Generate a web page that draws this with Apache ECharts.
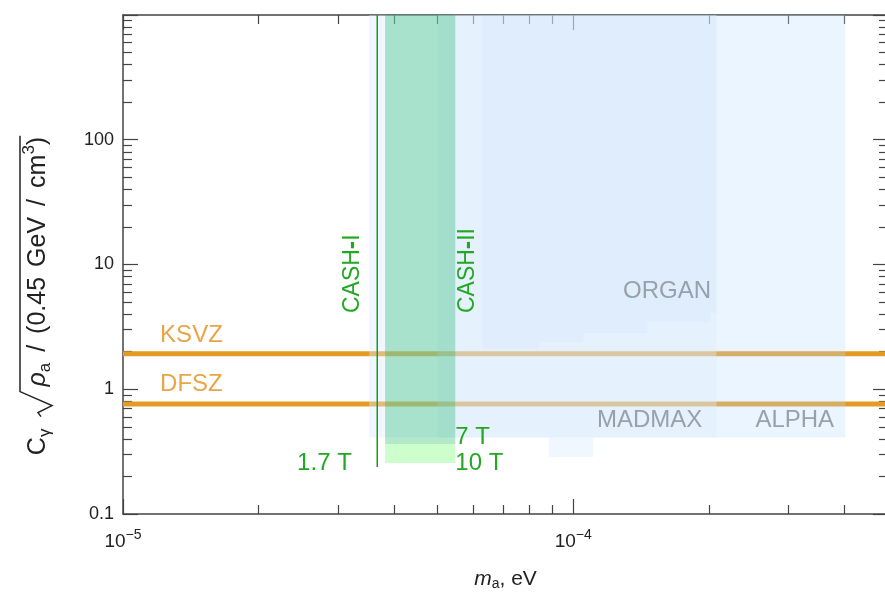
<!DOCTYPE html>
<html><head><meta charset="utf-8">
<script src="https://cdn.jsdelivr.net/npm/echarts@6/dist/echarts.min.js"></script>
<style>html,body{margin:0;padding:0;background:#fff}#c{width:885px;height:595px}</style>
</head><body><div id="c"></div>
<script>
// ---------- data ----------
const massRange = [1e-5, 5e-4];
const couplingRange = [0.1, 1000];
const massMajor = [1e-5, 1e-4];
const massMinor = [2e-5,3e-5,4e-5,5e-5,6e-5,7e-5,8e-5,9e-5,2e-4,3e-4,4e-4];
const couplingMajor = [0.1, 1, 10, 100, 1000];
const couplingLabelValues = [0.1, 1, 10, 100];
const couplingMinor = [0.2,0.3,0.4,0.5,0.6,0.7,0.8,0.9,2,3,4,5,6,7,8,9,20,30,40,50,60,70,80,90,200,300,400,500,600,700,800,900];

// QCD axion benchmark couplings
const ksvzCoupling = 1.93;
const dfszCoupling = 0.76;

// rectangular sensitivity regions
const regionNames        = ['MADMAX wide', 'MADMAX core', 'ALPHA', 'small', 'CASH-II 7 T', 'CASH-II 10 T'];
const regionMassLow      = [3.52e-5, 5.0e-5, 2.08e-4, 8.84e-5, 3.82e-5, 3.82e-5];
const regionMassHigh     = [2.08e-4, 2.08e-4, 4.02e-4, 1.108e-4, 5.47e-5, 5.47e-5];
const regionCouplingLow  = [0.41, 0.41, 0.41, 0.287, 0.364, 0.256];
const regionCouplingHigh = [1000, 1000, 1000, 0.41, 1000, 0.364];

// ORGAN stepped region
const organMassEdges = [6.28e-5, 8.36e-5, 1.052e-4, 1.46e-4, 2.016e-4, 2.078e-4];
const organCouplingFloor = [2.10, 2.39, 2.82, 3.46, 4.09];
const organCouplingTop = 1000;

// CASH-I 1.7 T line
const cash1Mass = 3.67e-5;
const cash1Coupling = [0.238, 1000];

// annotations
const noteTexts    = ['KSVZ', 'DFSZ', 'CASH{b|-}I', 'CASH{b|-}II', 'ORGAN', 'MADMAX', 'ALPHA', '1.7 T', '7 T', '10 T'];
const noteMass     = [1.209e-5, 1.209e-5, 3.23e-5, 5.83e-5, 1.29e-4, 1.129e-4, 2.538e-4, 2.436e-5, 5.47e-5, 5.47e-5];
const noteCoupling = [2.72, 1.10, 4.08, 4.08, 6.05, 0.567, 0.567, 0.256, 0.41, 0.256];

// ---------- styles ----------
const FONT = 'Liberation Sans, Arial, sans-serif';
const AX = '#444';
const TXT = '#222';
const ORANGE = '#e39b26';
const regionFills = ['rgba(217,235,255,0.4)', 'rgba(207,230,252,0.3)', 'rgba(185,222,255,0.3)', 'rgba(217,235,255,0.4)', 'rgba(7,180,85,0.3)', 'rgba(0,255,0,0.2)'];
const regionZ = [1, 2, 1, 1, 4, 4];
const organFill = 'rgba(185,215,250,0.12)';
const noteColors = ['#e8a546','#e8a546','#22a822','#22a822','#98a1aa','#98a1aa','#98a1aa','#22a822','#22a822','#22a822'];
const noteRotate = [0,0,1,1,0,0,0,0,0,0];
const noteSize   = [24,24,23,23,24,24,24,24,24,24];

const chart = echarts.init(document.getElementById('c'), null, {renderer: 'canvas', width: 885, height: 595});

function mkX(position, ticks, len, line, labels) {
  return {
    type: 'log', logBase: 10, min: massRange[0], max: massRange[1], position: position,
    splitLine: {show: false}, minorTick: {show: false},
    axisLine: {show: line, onZero: false, lineStyle: {color: AX, width: 1.5}},
    axisTick: {show: true, inside: true, length: len, customValues: ticks, lineStyle: {color: AX, width: 1.2}},
    axisLabel: labels ? {
      show: true, customValues: massMajor, margin: 14, color: TXT, fontFamily: FONT, fontSize: 19,
      formatter: v => '10{sup|\u2212' + (-Math.round(Math.log10(v))) + '}',
      rich: {sup: {fontSize: 14, fontFamily: FONT, color: TXT, padding: [0, 0, 14, 0]}}
    } : {show: false}
  };
}
function mkY(position, ticks, len, line, labels) {
  return {
    type: 'log', logBase: 10, min: couplingRange[0], max: couplingRange[1], position: position,
    splitLine: {show: false}, minorTick: {show: false},
    axisLine: {show: line, onZero: false, lineStyle: {color: AX, width: 1.5}},
    axisTick: {show: true, inside: true, length: len, customValues: ticks, lineStyle: {color: AX, width: 1.2}},
    axisLabel: labels ? {
      show: true, customValues: couplingLabelValues, margin: 9, color: TXT, fontFamily: FONT, fontSize: 18,
      formatter: v => (v < 1 ? v.toFixed(1) : String(Math.round(v)))
    } : {show: false}
  };
}

const xAxes = [
  mkX('bottom', massMajor, 15, true, true),
  mkX('bottom', massMinor, 9, false, false),
  mkX('top', massMajor, 15, true, false),
  mkX('top', massMinor, 9, false, false)
];
xAxes[0].name = '{i|m}{s|a}, eV';
xAxes[0].nameLocation = 'middle';
xAxes[0].nameGap = 53;
xAxes[0].nameTextStyle = {fontFamily: FONT, fontSize: 21, color: TXT,
  rich: {i: {fontStyle: 'italic', fontFamily: FONT, fontSize: 21, color: TXT},
         s: {fontFamily: FONT, fontSize: 14, color: TXT, padding: [10, 0, 0, 0]}}};

const yAxes = [
  mkY('left', couplingMajor, 15, true, true),
  mkY('left', couplingMinor, 9, false, false),
  mkY('right', couplingMajor, 15, false, false),
  mkY('right', couplingMinor, 9, false, false)
];

const series = [
  {type: 'line', name: 'KSVZ', xAxisIndex: 0, yAxisIndex: 0, z: 2, silent: true, symbol: 'none',
   data: [[massRange[0], ksvzCoupling], [massRange[1], ksvzCoupling]],
   lineStyle: {color: ORANGE, width: 5, cap: 'butt'}},
  {type: 'line', name: 'DFSZ', xAxisIndex: 0, yAxisIndex: 0, z: 2, silent: true, symbol: 'none',
   data: [[massRange[0], dfszCoupling], [massRange[1], dfszCoupling]],
   lineStyle: {color: ORANGE, width: 5, cap: 'butt'}},
  {type: 'custom', name: 'ORGAN', xAxisIndex: 0, yAxisIndex: 0, z: 3, silent: true, clip: true,
   data: [[organMassEdges[0], organCouplingTop]],
   renderItem: function (params, api) {
     const e = organMassEdges, f = organCouplingFloor;
     const pts = [[e[0], organCouplingTop], [e[e.length - 1], organCouplingTop]];
     for (let i = f.length - 1; i >= 0; i--) {
       pts.push([e[i + 1], f[i]]);
       pts.push([e[i], f[i]]);
     }
     return {type: 'polygon', z2: 3, shape: {points: pts.map(p => api.coord(p))}, style: {fill: organFill}};
   }},
  {type: 'custom', name: 'regions', xAxisIndex: 0, yAxisIndex: 0, z: 3, silent: true, clip: true,
   data: regionNames.map((n, i) => [regionMassLow[i], regionCouplingLow[i], regionMassHigh[i], regionCouplingHigh[i], i]),
   encode: {x: [0, 2], y: [1, 3]},
   renderItem: function (params, api) {
     const i = api.value(4);
     const a = api.coord([api.value(0), api.value(3)]);
     const b = api.coord([api.value(2), api.value(1)]);
     return {type: 'rect', z2: regionZ[i], shape: {x: a[0], y: a[1], width: b[0] - a[0], height: b[1] - a[1]},
             style: {fill: regionFills[i]}};
   }},
  {type: 'line', name: 'CASH-I', xAxisIndex: 0, yAxisIndex: 0, z: 5, silent: true, symbol: 'none',
   data: [[cash1Mass, cash1Coupling[0]], [cash1Mass, cash1Coupling[1]]],
   lineStyle: {color: '#1c9a1c', width: 1.5}}
];

chart.setOption({
  animation: false,
  backgroundColor: '#fff',
  grid: {left: 123, top: 15, width: 765, height: 499, containLabel: false, outerBoundsMode: 'none'},
  xAxis: xAxes,
  yAxis: yAxes,
  series: series
});

// ---------- text overlays ----------
const graphics = [];
for (let i = 0; i < noteTexts.length; i++) {
  const p = chart.convertToPixel({xAxisIndex: 0, yAxisIndex: 0}, [noteMass[i], noteCoupling[i]]);
  graphics.push({
    type: 'text', x: p[0], y: p[1], rotation: noteRotate[i] ? Math.PI / 2 : 0, z: 100, silent: true,
    style: {text: noteTexts[i], fill: noteColors[i], font: noteSize[i] + 'px ' + FONT,
            align: 'left', verticalAlign: 'middle',
            rich: {b: {fontWeight: 'bold', fontSize: noteSize[i] + 2, fontFamily: FONT, fill: noteColors[i]}}}
  });
}

// y-axis title: C_gamma sqrt(rho_a / (0.45 GeV / cm^3))
const mctx = document.createElement('canvas').getContext('2d');
function tw(t, f) { mctx.font = f; return mctx.measureText(t).width; }
const S = 25, s = 17;
const big = S + 'px ' + FONT, small = s + 'px ' + FONT;
const parts = [
  {t: 'C', f: big, y: 0},
  {t: '\u03b3', f: small, y: 7},
  {gap: 10},
  {rad: 32},
  {t: '\u03c1', f: 'italic ' + big, y: 0},
  {t: 'a', f: small, y: 7},
  {gap: 11},
  {t: '/', f: big, y: 0},
  {gap: 11},
  {t: '(0.45', f: big, y: 0},
  {gap: 10},
  {t: 'GeV', f: big, y: 0},
  {gap: 11},
  {t: '/', f: big, y: 0},
  {gap: 11},
  {t: 'cm', f: big, y: 0},
  {t: '3', f: small, y: -9},
  {t: ')', f: big, y: 0}
];
let W = 0;
parts.forEach(p => { p.w = p.t ? tw(p.t, p.f) : (p.gap || p.rad); W += p.w; });
let px = -W / 2, radX = 0;
const titleEls = [];
parts.forEach(p => {
  if (p.t) {
    titleEls.push({type: 'text', x: px, y: p.y, style: {text: p.t, font: p.f, fill: TXT, align: 'left', verticalAlign: 'middle'}});
  } else if (p.rad) {
    radX = px;
  }
  px += p.w;
});
const ovTop = -18;
titleEls.push({type: 'polyline', shape: {points: [[radX + 2, 3], [radX + 6, 0], [radX + 13, 14], [radX + 27, ovTop], [px + 1, ovTop]]},
  style: {stroke: TXT, lineWidth: 1.5, fill: null}});
graphics.push({type: 'group', x: 38, y: 296, rotation: Math.PI / 2, children: titleEls, silent: true});

chart.setOption({graphic: graphics});
</script></body></html>
